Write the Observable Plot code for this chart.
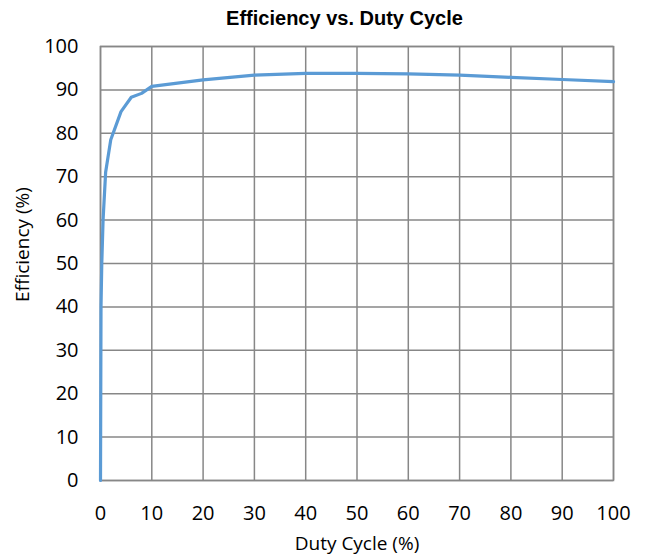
<!DOCTYPE html>
<html>
<head>
<meta charset="utf-8">
<script src="https://cdn.jsdelivr.net/npm/d3@7"></script>
<script src="https://cdn.jsdelivr.net/npm/@observablehq/plot@0.6"></script>
<style>
  html, body { margin: 0; padding: 0; background: #ffffff; }
</style>
</head>
<body>
<div id="chart"></div>
<script>
const duty = [0, 0.1, 0.25, 0.5, 1, 2, 4, 6, 8, 10, 20, 30, 40, 50, 60, 70, 80, 90, 100];
const efficiency = [0, 40, 50, 60, 71, 78.5, 85, 88.3, 89.2, 90.8, 92.3, 93.4, 93.8, 93.8, 93.7, 93.4, 92.9, 92.4, 91.9];
const xTicks = [0, 10, 20, 30, 40, 50, 60, 70, 80, 90, 100];
const yTicks = [0, 10, 20, 30, 40, 50, 60, 70, 80, 90, 100];
const title = "Efficiency vs. Duty Cycle";
const xLabel = "Duty Cycle (%)";
const yLabel = "Efficiency (%)";

const data = duty.map((d, i) => ({duty: d, eff: efficiency[i]}));
const tickFont = "'Open Sans', 'Noto Sans', sans-serif";
const gridColor = "#878787";

const chart = Plot.plot({
  width: 647,
  height: 559,
  marginLeft: 100,
  marginRight: 34,
  marginTop: 46,
  marginBottom: 79,
  x: {domain: [0, 100]},
  y: {domain: [0, 100]},
  style: {background: "#ffffff", color: "#000000", fontFamily: tickFont},
  marks: [
    Plot.gridX(xTicks, {stroke: gridColor, strokeOpacity: 1, strokeWidth: 1.5}),
    Plot.gridY(yTicks, {stroke: gridColor, strokeOpacity: 1, strokeWidth: 1.5}),
    Plot.frame({stroke: gridColor, strokeWidth: 1.5}),
    Plot.axisX(xTicks, {tickSize: 0, tickPadding: 25, fontSize: 20, label: null, fill: "#000"}),
    Plot.axisY(yTicks, {tickSize: 0, tickPadding: 22, fontSize: 20, label: null, fill: "#000"}),
    Plot.line(data, {x: "duty", y: "eff", stroke: "#5B9BD5", strokeWidth: 3.2, curve: "linear"}),
    Plot.text([title], {frameAnchor: "top", lineAnchor: "middle", dy: -27.5, dx: -12.5, fontWeight: "bold", fontSize: 20, fontFamily: "'Liberation Sans', Arial, sans-serif", fill: "#000"}),
    Plot.text([xLabel], {frameAnchor: "bottom", lineAnchor: "middle", dy: 63.5, fontSize: 19, fill: "#000"}),
    Plot.text([yLabel], {frameAnchor: "left", textAnchor: "middle", lineAnchor: "middle", rotate: -90, dx: -78, dy: -19, fontSize: 19, fill: "#000"})
  ]
});
document.getElementById("chart").appendChild(chart);
</script>
</body>
</html>
